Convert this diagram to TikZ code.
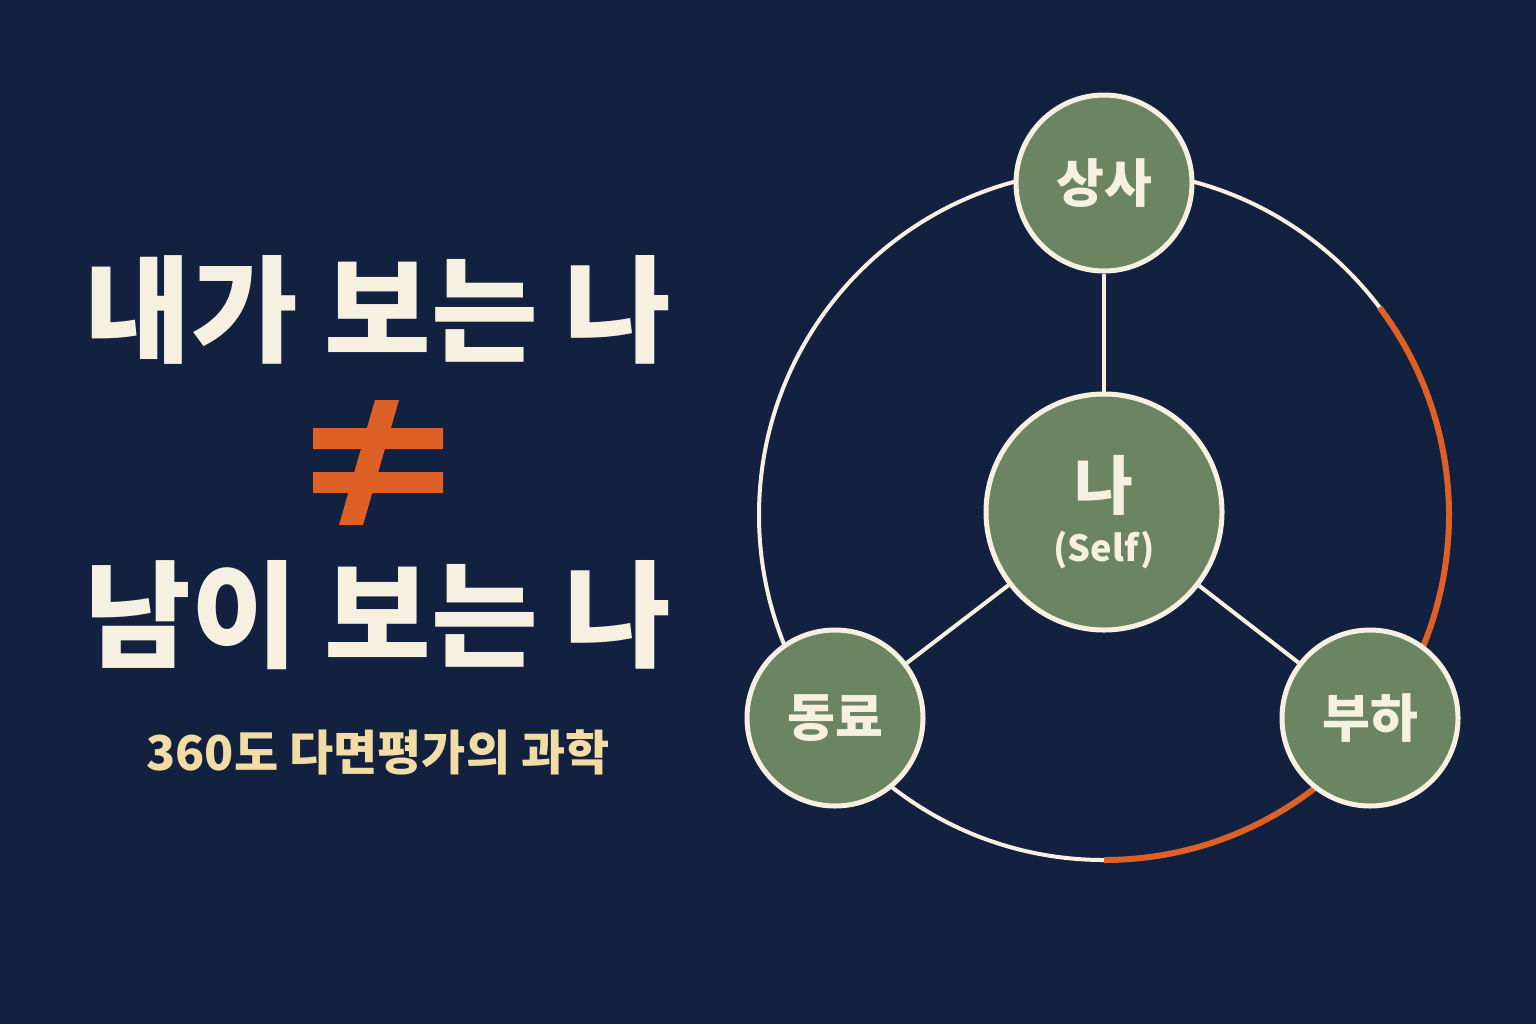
\documentclass[tikz,border=0pt]{standalone}
\usepackage{fontspec}
\setmainfont{Noto Sans CJK KR}
\usetikzlibrary{positioning}
\definecolor{navy}{HTML}{12213F}
\definecolor{sage}{HTML}{6B8462}
\definecolor{cream}{HTML}{F6F0E0}
\definecolor{rust}{HTML}{DD6126}
\definecolor{sand}{HTML}{F2DCA6}
\tikzset{
  member/.style={circle,draw=cream,line width=2.5pt,fill=sage,text=cream,
    minimum size=88pt,inner sep=0pt,font=\fontsize{26}{30}\selectfont\bfseries},
  headline/.style={text=cream,font=\fontsize{58}{64}\selectfont\bfseries},
  link/.style={draw=cream,line width=2pt}
}
\begin{document}
\begin{tikzpicture}[x=0.5pt,y=-0.5pt]
\fill[navy] (0,0) rectangle (1536,1024);
\useasboundingbox (0,0) rectangle (1536,1024);

% left title
\node[headline] (mine) at (378,310) {내가 보는 나};
\node[headline] (theirs) at (378,615) {남이 보는 나};
\fill[rust] (313,428) rectangle (443,449) (313,472) rectangle (443,493);
\fill[rust] (339,525) -- (363,525) -- (399,400) -- (375,400) -- cycle;
\node[text=sand,font=\fontsize{24}{28}\selectfont\bfseries] (sub) at (378,752) {360도 다면평가의 과학};

% ring
\draw[cream,line width=2pt] (1104,515) circle (345);
\draw[rust,line width=3pt] (1104,515) ++(90:345) arc (90:-37:345);

% nodes
\node[member] (boss) at (1104,183) {상사};
\node[member,minimum size=118pt] (self) at (1104,512) {};
\node[text=cream,font=\fontsize{32}{36}\selectfont\bfseries] (selfkr) at (1104,485) {나};
\node[text=cream,font=\fontsize{18}{22}\selectfont\bfseries] (selfen) at (1104,550) {(Self)};
\node[member] (peer) at (835,718) {동료};
\node[member] (sub2) at (1370,718) {부하};

\draw[link] (boss) -- (self);
\draw[link] (self) -- (peer);
\draw[link] (self) -- (sub2);
\end{tikzpicture}
\end{document}
